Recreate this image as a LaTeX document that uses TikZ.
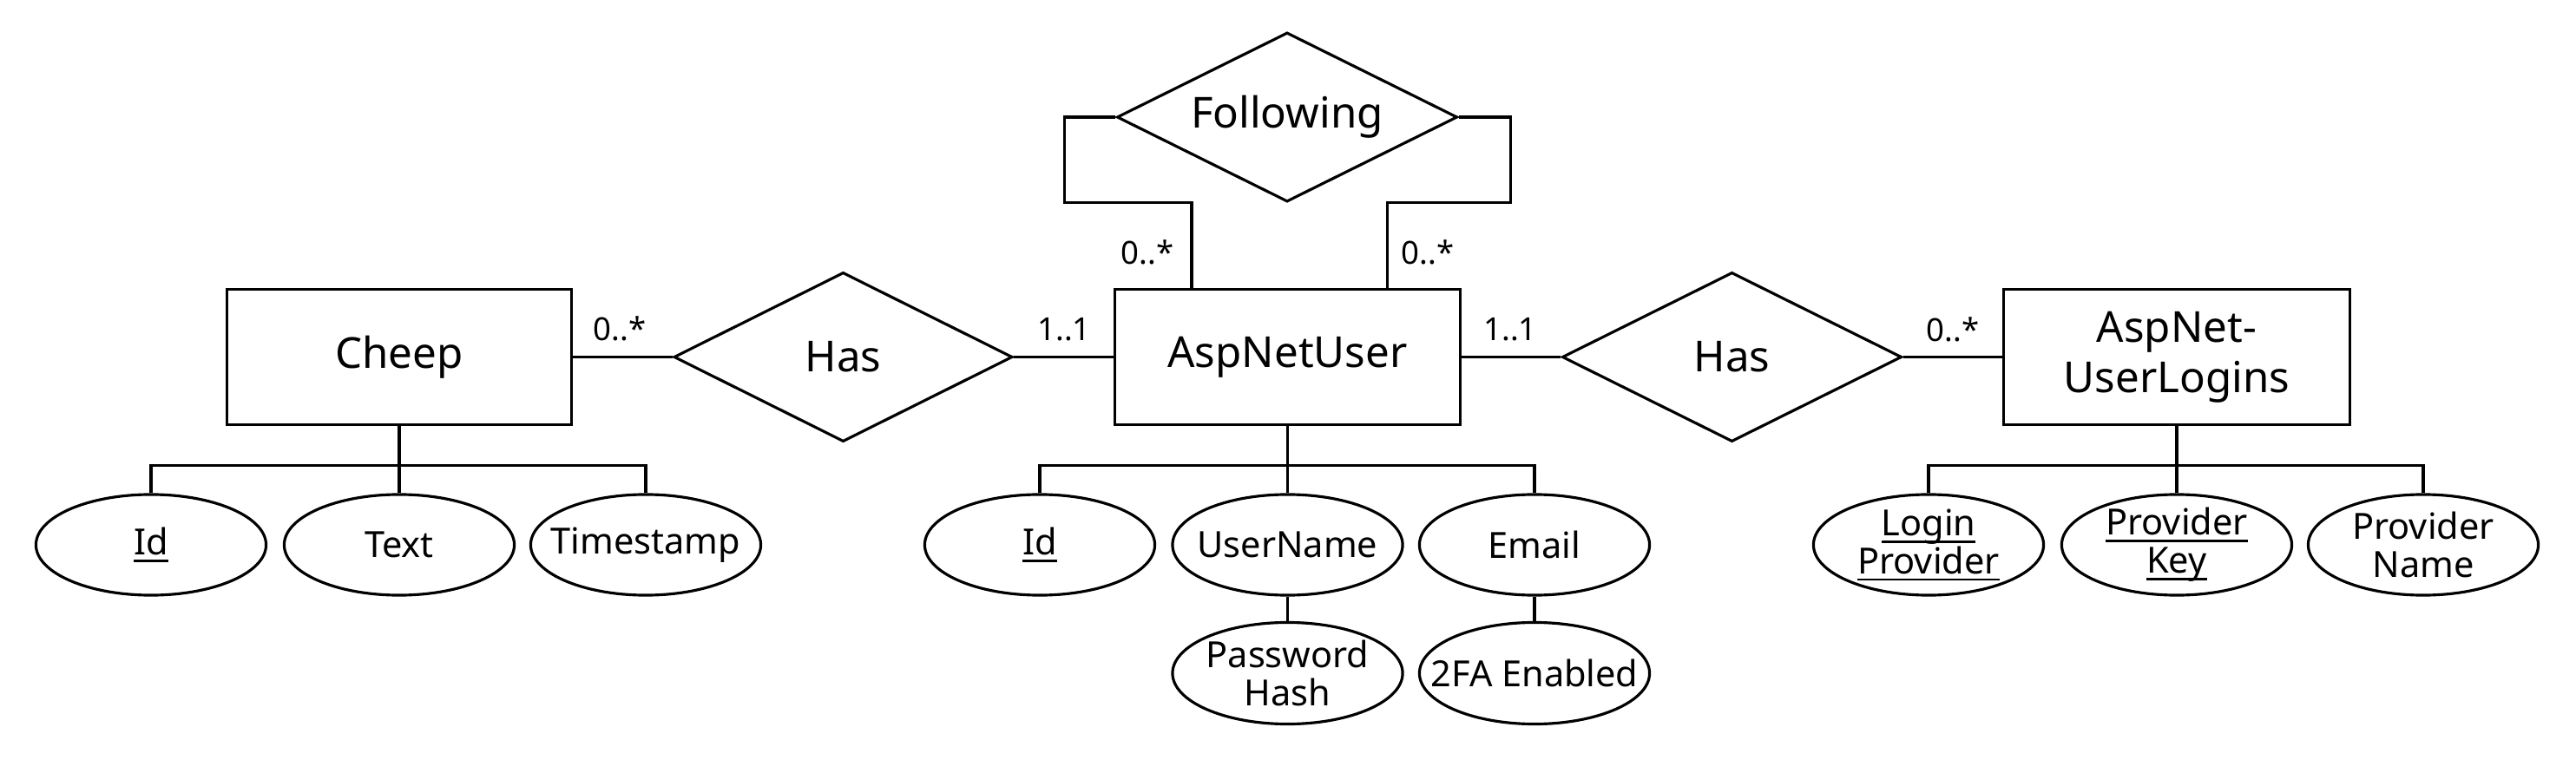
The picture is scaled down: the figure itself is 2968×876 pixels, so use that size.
\documentclass[tikz,border=0pt]{standalone}
\usepackage{fontspec}
\setmainfont{Noto Sans}
\usetikzlibrary{shapes.geometric}
\newcommand\ulx[1]{\setbox0\hbox{#1}\rlap{\rule[-2.3pt]{\wd0}{0.75pt}}\box0}
\begin{document}
\begin{tikzpicture}[x=0.01cm,y=-0.01cm,line width=0.9pt,
 entity/.style={draw,rectangle,minimum width=3.97cm,minimum height=1.56cm,inner sep=0pt,font=\fontsize{14}{16.6}\selectfont,align=center},
 rel/.style={draw,diamond,minimum width=3.9cm,minimum height=1.95cm,inner sep=-40pt,font=\fontsize{14}{16.6}\selectfont},
 attr/.style={draw,ellipse,minimum width=2.65cm,minimum height=1.16cm,inner sep=-30pt,font=\fontsize{11.8}{12.4}\selectfont,align=center},
 card/.style={font=\fontsize{10.4}{12}\selectfont,inner sep=0pt}]
\useasboundingbox (0,0) rectangle (2968,876);
% entities and relationships
\node[entity] (cheep) at (460,411.5) {Cheep};
\node[rel] (has1) at (971.5,411.5) {Has};
\node[entity] (user) at (1483.5,411.5) {AspNetUser};
\node[rel,minimum width=3.91cm] (has2) at (1995.5,411.5) {Has};
\node[entity,minimum width=3.98cm] (logins) at (2508,411.5) {AspNet-\\UserLogins};
\node[rel,minimum width=3.92cm] (follow) at (1483,135) {Following};
% attributes
\node[attr] (cid) at (174,628) {\ulx{Id}};
\node[attr] (ctext) at (460,628) {Text};
\node[attr] (cts) at (744,628) {Timestamp};
\node[attr] (uid) at (1198,628) {\ulx{Id}};
\node[attr] (uname) at (1483.5,628) {UserName};
\node[attr] (uemail) at (1768,628) {Email};
\node[attr,minimum height=1.17cm] (upw) at (1483.5,776) {Password\\Hash};
\node[attr,minimum height=1.17cm] (u2fa) at (1768,776) {2FA Enabled};
\node[attr] (lprov) at (2222,628) {\ulx{Login}\\\ulx{Provider}};
\node[attr] (lkey) at (2508,628) {\ulx{Provider}\\\ulx{Key}};
\node[attr] (lname) at (2792,628) {Provider\\Name};
% relationship connectors
\draw (cheep.east) -- (has1.west);
\draw (has1.east) -- (user.west);
\draw (user.east) -- (has2.west);
\draw (has2.east) -- (logins.west);
\draw (follow.west) -| ++(-59,98.5) -| ([xshift=-1.105cm]user.north);
\draw (follow.east) -| ++(59.5,98.5) -| ([xshift=1.15cm]user.north);
% attribute connectors
\draw (cheep.south) -- (ctext.north);
\draw (cid.north) -- ++(0,-32) -| (cts.north);
\draw (user.south) -- (uname.north);
\draw (uid.north) -- ++(0,-32) -| (uemail.north);
\draw (uname.south) -- (upw.north);
\draw (uemail.south) -- (u2fa.north);
\draw (logins.south) -- (lkey.north);
\draw (lprov.north) -- ++(0,-32) -| (lname.north);
% cardinalities
\node[card] (c1) at (714,379) {0..*};
\node[card] (c2) at (1226,380) {1..1};
\node[card] (c3) at (1740,380) {1..1};
\node[card] (c4) at (2250,380) {0..*};
\node[card] (c5) at (1322,290.5) {0..*};
\node[card] (c6) at (1645,290.5) {0..*};
\end{tikzpicture}
\end{document}
